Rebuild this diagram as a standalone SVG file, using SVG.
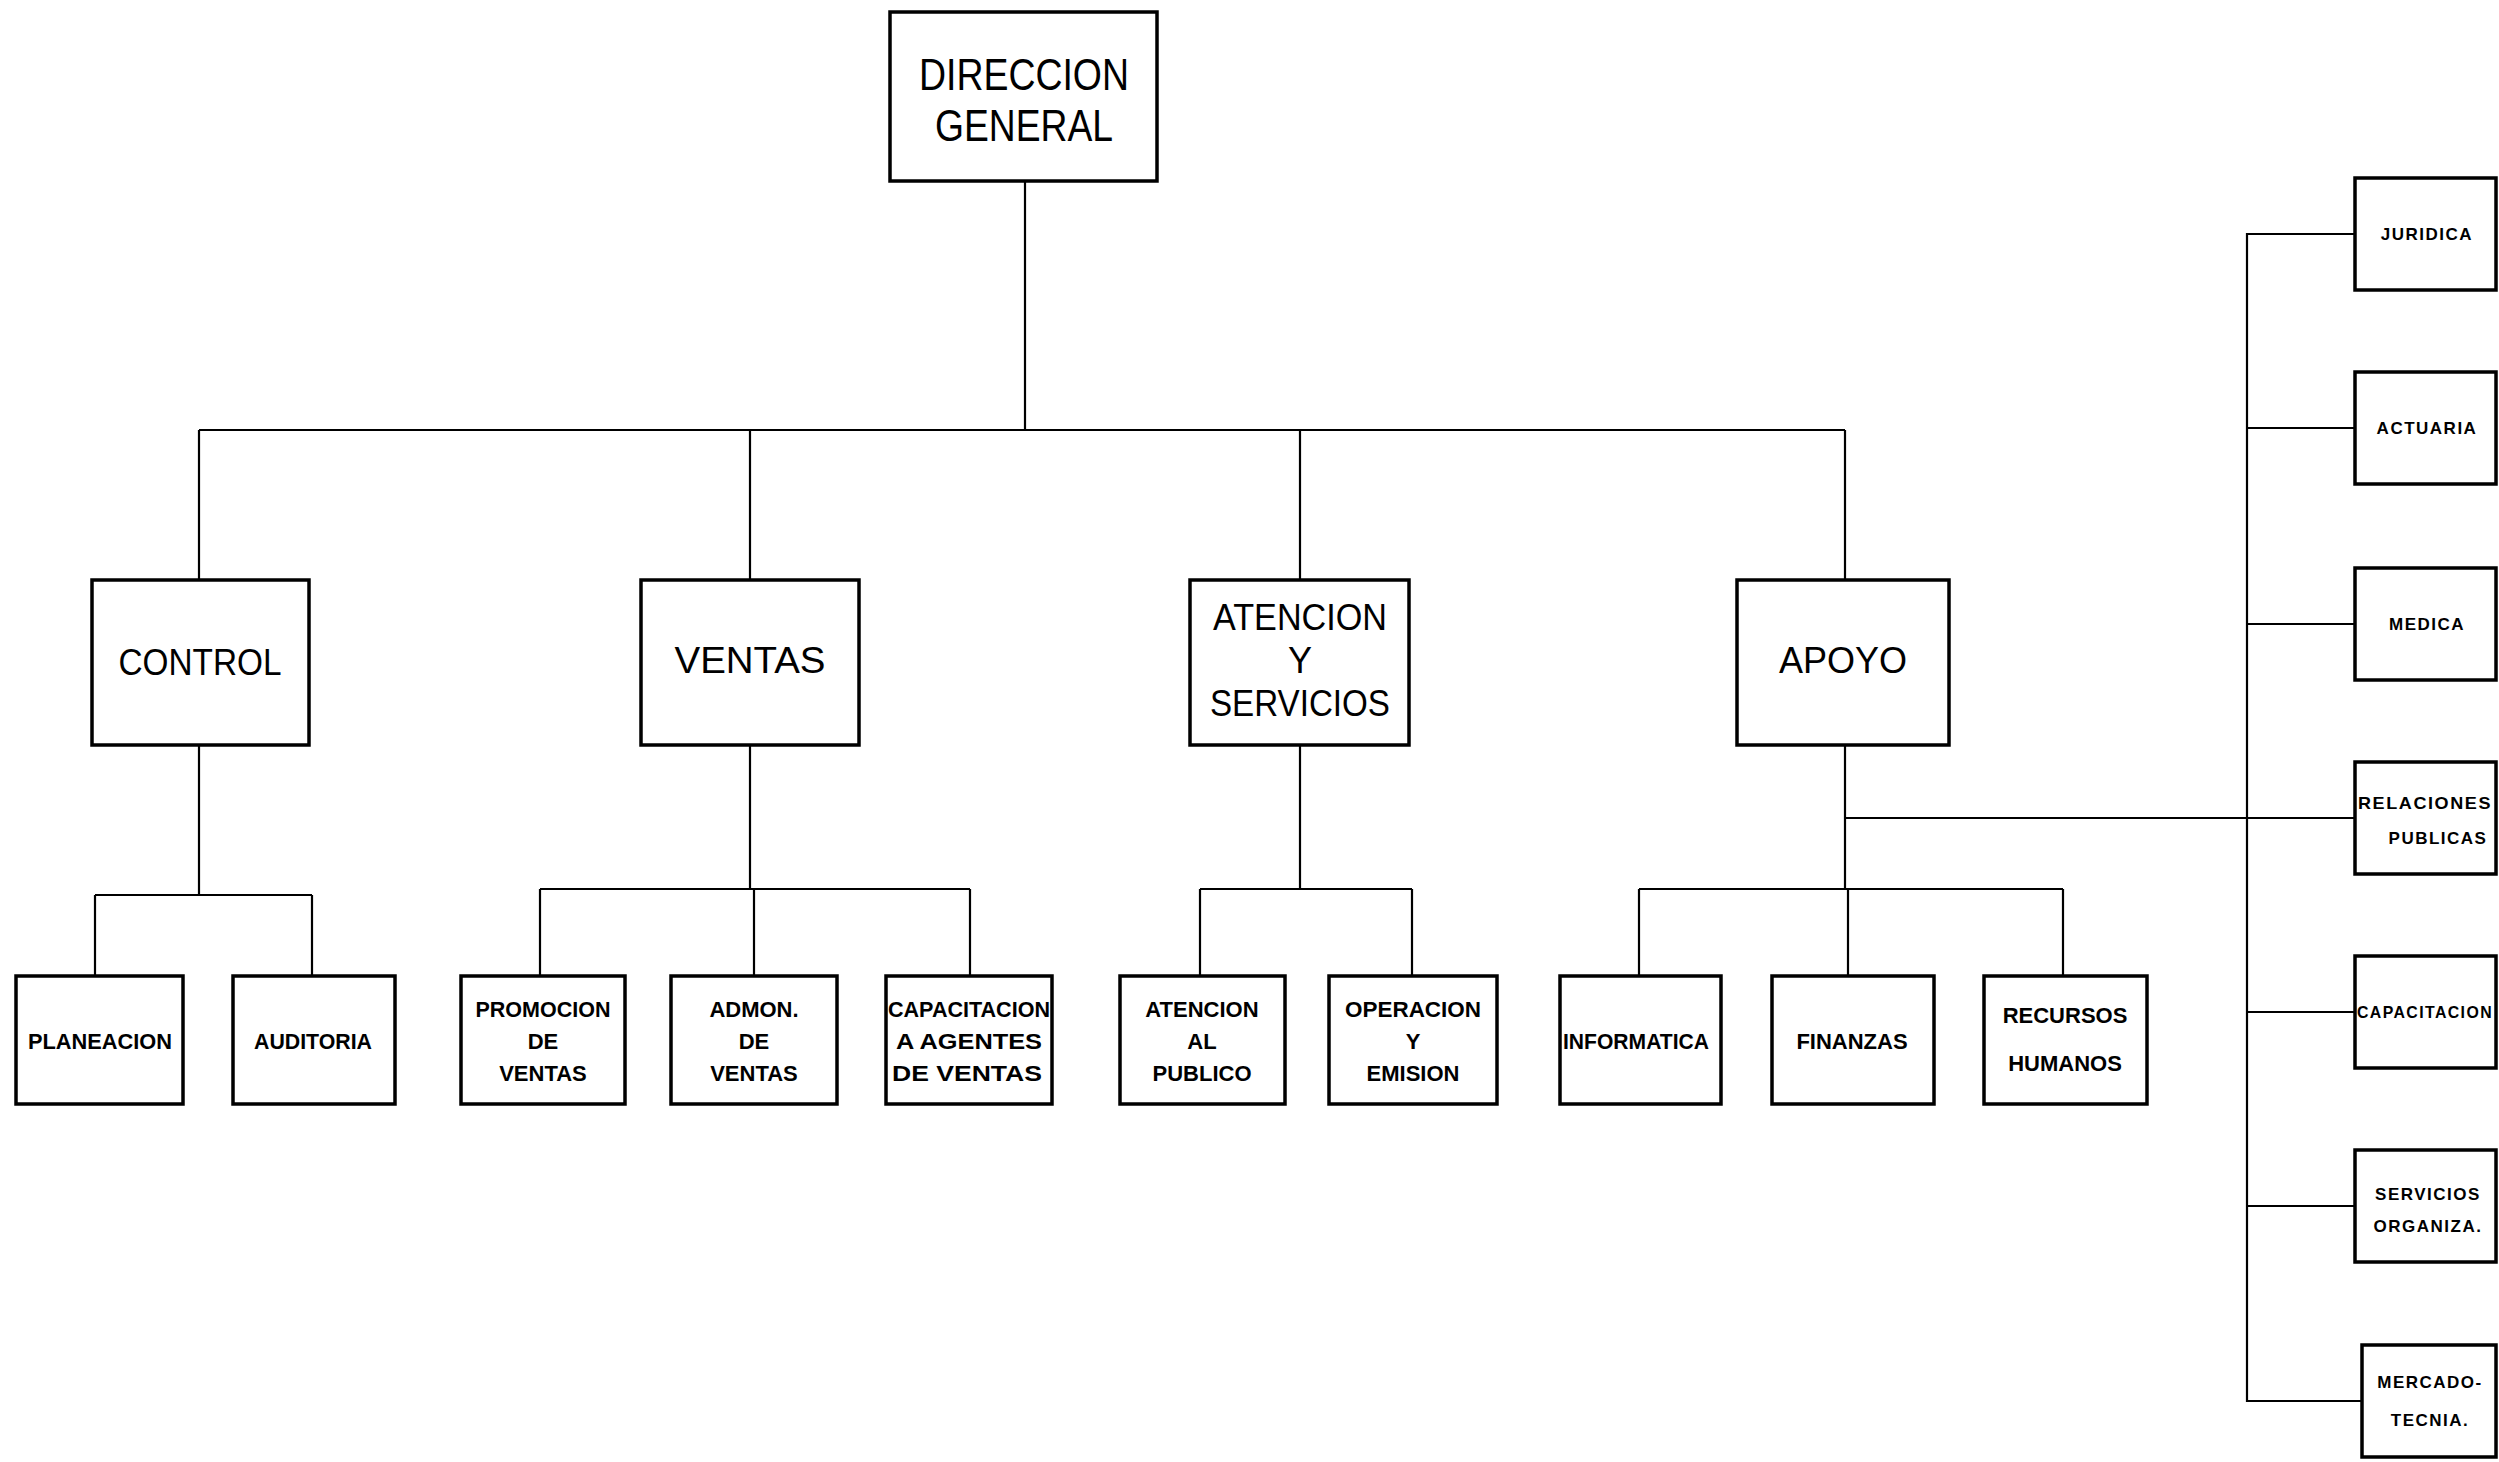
<svg xmlns="http://www.w3.org/2000/svg" width="2499" height="1462" viewBox="0 0 2499 1462">
<style>
.box{fill:#fff;stroke:#000;stroke-width:3.5}
.con{fill:none;stroke:#000;stroke-width:2.2}
text{font-family:"Liberation Sans",Arial,sans-serif;text-anchor:middle;fill:#000}
.t1{font-size:44px}
.t2{font-size:36px}
.t3{font-size:22px;font-weight:bold}
.t4{font-size:17px;font-weight:bold;letter-spacing:1.5px}
</style>
<rect width="2499" height="1462" fill="#fff"/>
<g id="connectors">
<path class="con" d="M1025 181V430M199 430H1845M199 430V580M750 430V580M1300 430V580M1845 430V580"/>
<path class="con" d="M199 745V895M95 895H312M95 895V976M312 895V976"/>
<path class="con" d="M750 745V889M540 889H970M540 889V976M754 889V976M970 889V976"/>
<path class="con" d="M1300 745V889M1200 889H1412M1200 889V976M1412 889V976"/>
<path class="con" d="M1845 745V889M1639 889H2063M1639 889V976M1848 889V976M2063 889V976"/>
<path class="con" d="M1845 818H2355"/>
<path class="con" d="M2355 234H2247V1401H2362M2247 428H2355M2247 624H2355M2247 1012H2355M2247 1206H2355"/>
</g>
<g id="direccion-general">
<rect class="box" x="890" y="12" width="267" height="169"/>
<text class="t1" x="1024" y="90" textLength="210" lengthAdjust="spacingAndGlyphs">DIRECCION</text>
<text class="t1" x="1024" y="141" textLength="178" lengthAdjust="spacingAndGlyphs">GENERAL</text>
</g>
<g id="control">
<rect class="box" x="92" y="580" width="217" height="165"/>
<text class="t2" x="200" y="675" textLength="163" lengthAdjust="spacingAndGlyphs">CONTROL</text>
</g>
<g id="ventas">
<rect class="box" x="641" y="580" width="218" height="165"/>
<text class="t2" x="750" y="673" textLength="151" lengthAdjust="spacingAndGlyphs">VENTAS</text>
</g>
<g id="atencion-servicios">
<rect class="box" x="1190" y="580" width="219" height="165"/>
<text class="t2" x="1300" y="630" textLength="174" lengthAdjust="spacingAndGlyphs">ATENCION</text>
<text class="t2" x="1300" y="673">Y</text>
<text class="t2" x="1300" y="716" textLength="180" lengthAdjust="spacingAndGlyphs">SERVICIOS</text>
</g>
<g id="apoyo">
<rect class="box" x="1737" y="580" width="212" height="165"/>
<text class="t2" x="1843" y="673" textLength="128" lengthAdjust="spacing">APOYO</text>
</g>
<g id="planeacion">
<rect class="box" x="16" y="976" width="167" height="128"/>
<text class="t3" x="100" y="1049" textLength="144" lengthAdjust="spacingAndGlyphs">PLANEACION</text>
</g>
<g id="auditoria">
<rect class="box" x="233" y="976" width="162" height="128"/>
<text class="t3" x="313" y="1049" textLength="118" lengthAdjust="spacingAndGlyphs">AUDITORIA</text>
</g>
<g id="promocion-ventas">
<rect class="box" x="461" y="976" width="164" height="128"/>
<text class="t3" x="543" y="1017" textLength="135" lengthAdjust="spacingAndGlyphs">PROMOCION</text>
<text class="t3" x="543" y="1049">DE</text>
<text class="t3" x="543" y="1081">VENTAS</text>
</g>
<g id="admon-ventas">
<rect class="box" x="671" y="976" width="166" height="128"/>
<text class="t3" x="754" y="1017">ADMON.</text>
<text class="t3" x="754" y="1049">DE</text>
<text class="t3" x="754" y="1081">VENTAS</text>
</g>
<g id="capacitacion-agentes">
<rect class="box" x="886" y="976" width="166" height="128"/>
<text class="t3" x="969" y="1017" textLength="162" lengthAdjust="spacingAndGlyphs">CAPACITACION</text>
<text class="t3" x="969" y="1049" textLength="146" lengthAdjust="spacingAndGlyphs">A AGENTES</text>
<text class="t3" x="967" y="1081" textLength="150" lengthAdjust="spacingAndGlyphs">DE VENTAS</text>
</g>
<g id="atencion-publico">
<rect class="box" x="1120" y="976" width="165" height="128"/>
<text class="t3" x="1202" y="1017">ATENCION</text>
<text class="t3" x="1202" y="1049">AL</text>
<text class="t3" x="1202" y="1081">PUBLICO</text>
</g>
<g id="operacion-emision">
<rect class="box" x="1329" y="976" width="168" height="128"/>
<text class="t3" x="1413" y="1017" textLength="136" lengthAdjust="spacingAndGlyphs">OPERACION</text>
<text class="t3" x="1413" y="1049">Y</text>
<text class="t3" x="1413" y="1081">EMISION</text>
</g>
<g id="informatica">
<rect class="box" x="1560" y="976" width="161" height="128"/>
<text class="t3" x="1636" y="1049" textLength="146" lengthAdjust="spacingAndGlyphs">INFORMATICA</text>
</g>
<g id="finanzas">
<rect class="box" x="1772" y="976" width="162" height="128"/>
<text class="t3" x="1852" y="1049">FINANZAS</text>
</g>
<g id="recursos-humanos">
<rect class="box" x="1984" y="976" width="163" height="128"/>
<text class="t3" x="2065" y="1023">RECURSOS</text>
<text class="t3" x="2065" y="1071">HUMANOS</text>
</g>
<g id="juridica">
<rect class="box" x="2355" y="178" width="141" height="112"/>
<text class="t4" x="2427" y="240">JURIDICA</text>
</g>
<g id="actuaria">
<rect class="box" x="2355" y="372" width="141" height="112"/>
<text class="t4" x="2427" y="434">ACTUARIA</text>
</g>
<g id="medica">
<rect class="box" x="2355" y="568" width="141" height="112"/>
<text class="t4" x="2427" y="630">MEDICA</text>
</g>
<g id="relaciones-publicas">
<rect class="box" x="2355" y="762" width="141" height="112"/>
<text class="t4" x="2425" y="809" textLength="134" lengthAdjust="spacingAndGlyphs">RELACIONES</text>
<text class="t4" x="2438" y="844">PUBLICAS</text>
</g>
<g id="capacitacion">
<rect class="box" x="2355" y="956" width="141" height="112"/>
<text class="t4" x="2425" y="1018" textLength="136" lengthAdjust="spacingAndGlyphs">CAPACITACION</text>
</g>
<g id="servicios-organiza">
<rect class="box" x="2355" y="1150" width="141" height="112"/>
<text class="t4" x="2428" y="1200">SERVICIOS</text>
<text class="t4" x="2428" y="1232">ORGANIZA.</text>
</g>
<g id="mercadotecnia">
<rect class="box" x="2362" y="1345" width="134" height="112"/>
<text class="t4" x="2430" y="1388">MERCADO-</text>
<text class="t4" x="2430" y="1426">TECNIA.</text>
</g>
</svg>
